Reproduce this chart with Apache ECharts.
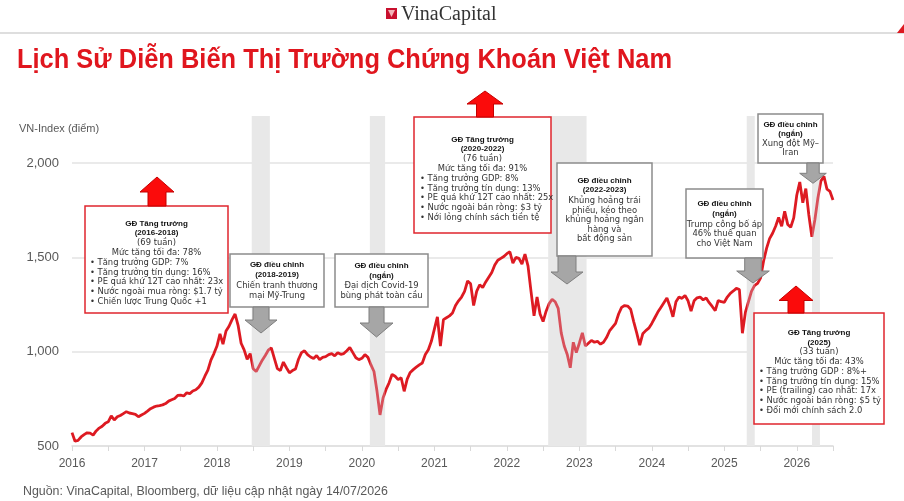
<!DOCTYPE html>
<html>
<head>
<meta charset="utf-8">
<script src="https://cdn.jsdelivr.net/npm/echarts@6/dist/echarts.min.js"></script>
<style>
  html, body { margin: 0; padding: 0; background: #fff; }
  #chart { width: 904px; height: 501px; }
</style>
</head>
<body>
<div id="chart"></div>
<script>
// VN-Index, read twice a month off the picture (24 points per year)
const years = [2016, 2017, 2018, 2019, 2020, 2021, 2022, 2023, 2024, 2025, 2026];
const vn2016 = [571, 525, 530, 548, 560, 570, 568, 558, 580, 595, 605, 620, 628, 660, 638, 655, 662, 672, 682, 675, 672, 668, 655, 664];
const vn2017 = [673, 685, 698, 706, 712, 714, 718, 725, 738, 745, 752, 768, 770, 765, 782, 778, 792, 798, 812, 835, 870, 902, 955, 990];
const vn2018 = [1030, 1095, 1040, 1110, 1135, 1170, 1200, 1140, 1045, 1010, 960, 990, 910, 895, 925, 955, 980, 1008, 1020, 965, 910, 900, 945, 915];
const vn2019 = [888, 900, 908, 960, 995, 1005, 985, 972, 964, 980, 958, 970, 974, 985, 990, 978, 994, 986, 990, 1005, 1022, 995, 968, 958];
const vn2020 = [965, 985, 970, 930, 895, 790, 665, 755, 800, 835, 880, 870, 852, 862, 790, 855, 890, 905, 918, 930, 940, 985, 1010, 1055];
const vn2021 = [1120, 1185, 1030, 1170, 1180, 1190, 1205, 1245, 1270, 1290, 1320, 1375, 1360, 1245, 1320, 1355, 1340, 1370, 1395, 1420, 1460, 1485, 1495, 1505];
const vn2022 = [1520, 1530, 1470, 1500, 1495, 1465, 1518, 1455, 1320, 1190, 1290, 1200, 1160, 1215, 1255, 1278, 1265, 1230, 1100, 1030, 985, 915, 1050, 995];
const vn2023 = [1045, 1100, 1030, 1045, 1060, 1050, 1055, 1040, 1050, 1075, 1110, 1130, 1150, 1200, 1235, 1245, 1242, 1225, 1160, 1100, 1035, 1095, 1112, 1125];
const vn2024 = [1150, 1180, 1210, 1235, 1260, 1285, 1240, 1185, 1265, 1290, 1283, 1298, 1270, 1215, 1270, 1286, 1290, 1275, 1285, 1260, 1240, 1218, 1272, 1265];
const vn2025 = [1262, 1290, 1310, 1322, 1336, 1330, 1098, 1210, 1265, 1320, 1350, 1362, 1390, 1480, 1548, 1600, 1628, 1665, 1712, 1665, 1745, 1675, 1660, 1710];
const vn2026 = [1830, 1900, 1790, 1865, 1725, 1610, 1700, 1815, 1905, 1930, 1862, 1850, 1805];

// correction periods (grey bands), in years
const bands = [[2018.48, 2018.73], [2020.11, 2020.32], [2022.57, 2023.10], [2025.31, 2025.42], [2026.21, 2026.32]];

const perYear = [vn2016, vn2017, vn2018, vn2019, vn2020, vn2021, vn2022, vn2023, vn2024, vn2025, vn2026];
const points = [];
perYear.forEach((vals, k) => vals.forEach((v, i) => points.push([years[k] + i / 24, v])));

const RED = '#dd1a22';
const BODY = '8.4px "DejaVu Sans"';
const HEAD = 'bold 8px "Liberation Sans"';
const TITLE = 'Lịch Sử Diễn Biến Thị Trường Chứng Khoán Việt Nam';
const TITLE_FONT = 'bold 28px "Liberation Sans"';

// annotation boxes: h = bold heading, c = centred text, b = bullet
const notes = [
  { x: 85, y: 206, w: 143, h: 107, red: true, left: 90, lines: [
    ['GĐ Tăng trưởng', 'h', 223.3], ['(2016-2018)', 'h', 233], ['(69 tuần)', 'c', 243],
    ['Mức tăng tối đa: 78%', 'c', 252.7], ['• Tăng trưởng GDP: 7%', 'b', 262.7],
    ['• Tăng trưởng tín dụng: 16%', 'b', 272.5], ['• PE quá khứ 12T cao nhất: 23x', 'b', 282.3],
    ['• Nước ngoài mua ròng: $1.7 tỷ', 'b', 292], ['• Chiến lược Trung Quốc +1', 'b', 301.7]] },
  { x: 230, y: 254, w: 94, h: 53, lines: [
    ['GĐ điều chỉnh', 'h', 265], ['(2018-2019)', 'h', 275], ['Chiến tranh thương', 'c', 285.7], ['mại Mỹ-Trung', 'c', 295.7]] },
  { x: 335, y: 254, w: 93, h: 53, lines: [
    ['GĐ điều chỉnh', 'h', 265.7], ['(ngắn)', 'h', 275.7], ['Đại dịch Covid-19', 'c', 286], ['bùng phát toàn cầu', 'c', 295.7]] },
  { x: 414, y: 117, w: 137, h: 116, red: true, left: 420, lines: [
    ['GĐ Tăng trưởng', 'h', 139.3], ['(2020-2022)', 'h', 149], ['(76 tuần)', 'c', 159],
    ['Mức tăng tối đa: 91%', 'c', 169], ['• Tăng trưởng GDP: 8%', 'b', 179],
    ['• Tăng trưởng tín dụng: 13%', 'b', 188.7], ['• PE quá khứ 12T cao nhất: 25x', 'b', 198.3],
    ['• Nước ngoài bán ròng: $3 tỷ', 'b', 208], ['• Nới lỏng chính sách tiền tệ', 'b', 217.7]] },
  { x: 557, y: 163, w: 95, h: 93, lines: [
    ['GĐ điều chỉnh', 'h', 180.7], ['(2022-2023)', 'h', 190], ['Khủng hoảng trái', 'c', 200.7],
    ['phiếu, kéo theo', 'c', 210.5], ['khủng hoảng ngân', 'c', 220], ['hàng và', 'c', 229.7], ['bất động sản', 'c', 239]] },
  { x: 686, y: 189, w: 77, h: 69, lines: [
    ['GĐ điều chỉnh', 'h', 204], ['(ngắn)', 'h', 214], ['Trump công bố áp', 'c', 224.7],
    ['46% thuế quan', 'c', 234.3], ['cho Việt Nam', 'c', 244]] },
  { x: 758, y: 114, w: 65, h: 49, lines: [
    ['GĐ điều chỉnh', 'h', 124.7], ['(ngắn)', 'h', 134], ['Xung đột Mỹ–', 'c', 144.3], ['Iran', 'c', 153.3]] },
  { x: 754, y: 313, w: 130, h: 111, red: true, left: 759, lines: [
    ['GĐ Tăng trưởng', 'h', 332.7], ['(2025)', 'h', 342.3], ['(33 tuần)', 'c', 352.3],
    ['Mức tăng tối đa: 43%', 'c', 362], ['• Tăng trưởng GDP : 8%+', 'b', 371.7],
    ['• Tăng trưởng tín dụng: 15%', 'b', 381.5], ['• PE (trailing) cao nhất: 17x', 'b', 391.2],
    ['• Nước ngoài bán ròng: $5 tỷ', 'b', 401], ['• Đổi mới chính sách 2.0', 'b', 410.5]] }
];

// arrows: centre x, start y (box edge), head base y, tip y, half head, half shaft
const upArrows = [[157, 206, 192, 177, 17, 9], [485, 117, 104, 91, 18, 8.5], [796, 313, 300.5, 286, 17, 8]];
const downArrows = [[261, 307, 320, 333, 16, 8], [376.5, 307, 323, 337, 16.5, 7.5], [567, 256, 272, 284, 16, 9],
  [753, 258, 271, 283, 16.3, 8.3], [813, 163, 173.3, 183.3, 13.3, 6.2]];

function arrow(a, fill, stroke) {
  const [cx, y0, yb, yt, hh, hs] = a;
  return {
    type: 'polygon', z: 20,
    shape: { points: [[cx, yt], [cx + hh, yb], [cx + hs, yb], [cx + hs, y0], [cx - hs, y0], [cx - hs, yb], [cx - hh, yb]] },
    style: { fill: fill, stroke: stroke, lineWidth: 1 }
  };
}

function txt(text, x, y, font, fill, align) {
  return {
    type: 'text', x: x, y: y, z: 21,
    style: { text: text, font: font, fill: fill, align: align, textAlign: align, verticalAlign: 'middle', textVerticalAlign: 'middle' }
  };
}

// squeeze the title into the condensed width of the original
const ctx = document.createElement('canvas').getContext('2d');
ctx.font = TITLE_FONT;
const titleScale = 655 / ctx.measureText(TITLE).width;

const graphics = [];
// header
graphics.push({ type: 'rect', z: 20, shape: { x: 386, y: 8, width: 11, height: 11 }, style: { fill: '#c8102e' } });
graphics.push({ type: 'polygon', z: 21, shape: { points: [[388, 10], [395, 10], [391.5, 17]] }, style: { fill: '#f3b3b8' } });
graphics.push(txt('VinaCapital', 401, 14.5, '20px "Liberation Serif"', '#333', 'left'));
graphics.push({ type: 'line', z: 20, shape: { x1: 0, y1: 33, x2: 904, y2: 33 }, style: { stroke: '#bdbdbd', lineWidth: 1 } });
graphics.push({ type: 'polygon', z: 20, shape: { points: [[897, 33], [904, 24], [904, 33]] }, style: { fill: RED } });
const title = txt(TITLE, 17, 60.5, TITLE_FONT, '#e0161e', 'left');
title.scaleX = titleScale;
graphics.push(title);
graphics.push(txt('VN-Index (điểm)', 19, 128.5, '11px "Liberation Sans"', '#595959', 'left'));
graphics.push(txt('Nguồn: VinaCapital, Bloomberg, dữ liệu cập nhật ngày 14/07/2026', 23, 491.5, '12.4px "Liberation Sans"', '#595959', 'left'));

notes.forEach(n => {
  graphics.push({ type: 'rect', z: 19, shape: { x: n.x, y: n.y, width: n.w, height: n.h },
    style: { fill: '#fff', stroke: n.red ? '#e0262e' : '#8c8c8c', lineWidth: 1.5 } });
  n.lines.forEach(l => {
    const [t, kind, y] = l;
    if (kind === 'h') graphics.push(txt(t, n.x + n.w / 2, y, HEAD, '#111', 'center'));
    else if (kind === 'c') graphics.push(txt(t, n.x + n.w / 2, y, BODY, '#333', 'center'));
    else graphics.push(txt(t, n.left, y, BODY, '#333', 'left'));
  });
});
upArrows.forEach(a => graphics.push(arrow(a, '#fb0b0b', '#c40000')));
downArrows.forEach(a => graphics.push(arrow(a, '#a6a6a6', '#7f7f7f')));

const chart = echarts.init(document.getElementById('chart'));
const option = {
  animation: false,
  grid: { left: 72, right: 71, top: 116, bottom: 55 },
  xAxis: {
    type: 'value', min: 2016, max: 2026.5, interval: 0.5,
    axisLine: { lineStyle: { color: '#d9d9d9', width: 1.5 } },
    axisTick: { show: true, length: 5, lineStyle: { color: '#d9d9d9' } },
    axisLabel: {
      formatter: v => (Number.isInteger(v) ? String(v) : ''),
      color: '#595959', fontSize: 12, fontFamily: 'Liberation Sans', margin: 12
    },
    splitLine: { show: false }
  },
  yAxis: {
    type: 'value', min: 500, max: 2250, interval: 500,
    axisLine: { show: false }, axisTick: { show: false },
    axisLabel: {
      formatter: v => v.toLocaleString('en-US'), showMaxLabel: false,
      color: '#595959', fontSize: 13, fontFamily: 'Liberation Sans', margin: 13
    },
    splitLine: { show: true, showMinLine: false, showMaxLine: false, lineStyle: { color: '#e3e3e3', width: 1.5 } }
  },
  visualMap: {
    show: false, type: 'piecewise', dimension: 0, seriesIndex: 0,
    pieces: bands.map(b => ({ gte: b[0], lt: b[1], color: '#d8505a' })),
    outOfRange: { color: RED }
  },
  series: [{
    type: 'line',
    data: points,
    showSymbol: false,
    lineStyle: { width: 2.8 },
    markArea: {
      silent: true,
      itemStyle: { color: '#e8e8e8' },
      data: bands.map(b => [{ xAxis: b[0] }, { xAxis: b[1] }])
    }
  }],
  graphic: graphics
};
chart.setOption(option);
window.addEventListener('resize', () => chart.resize());
</script>
</body>
</html>
